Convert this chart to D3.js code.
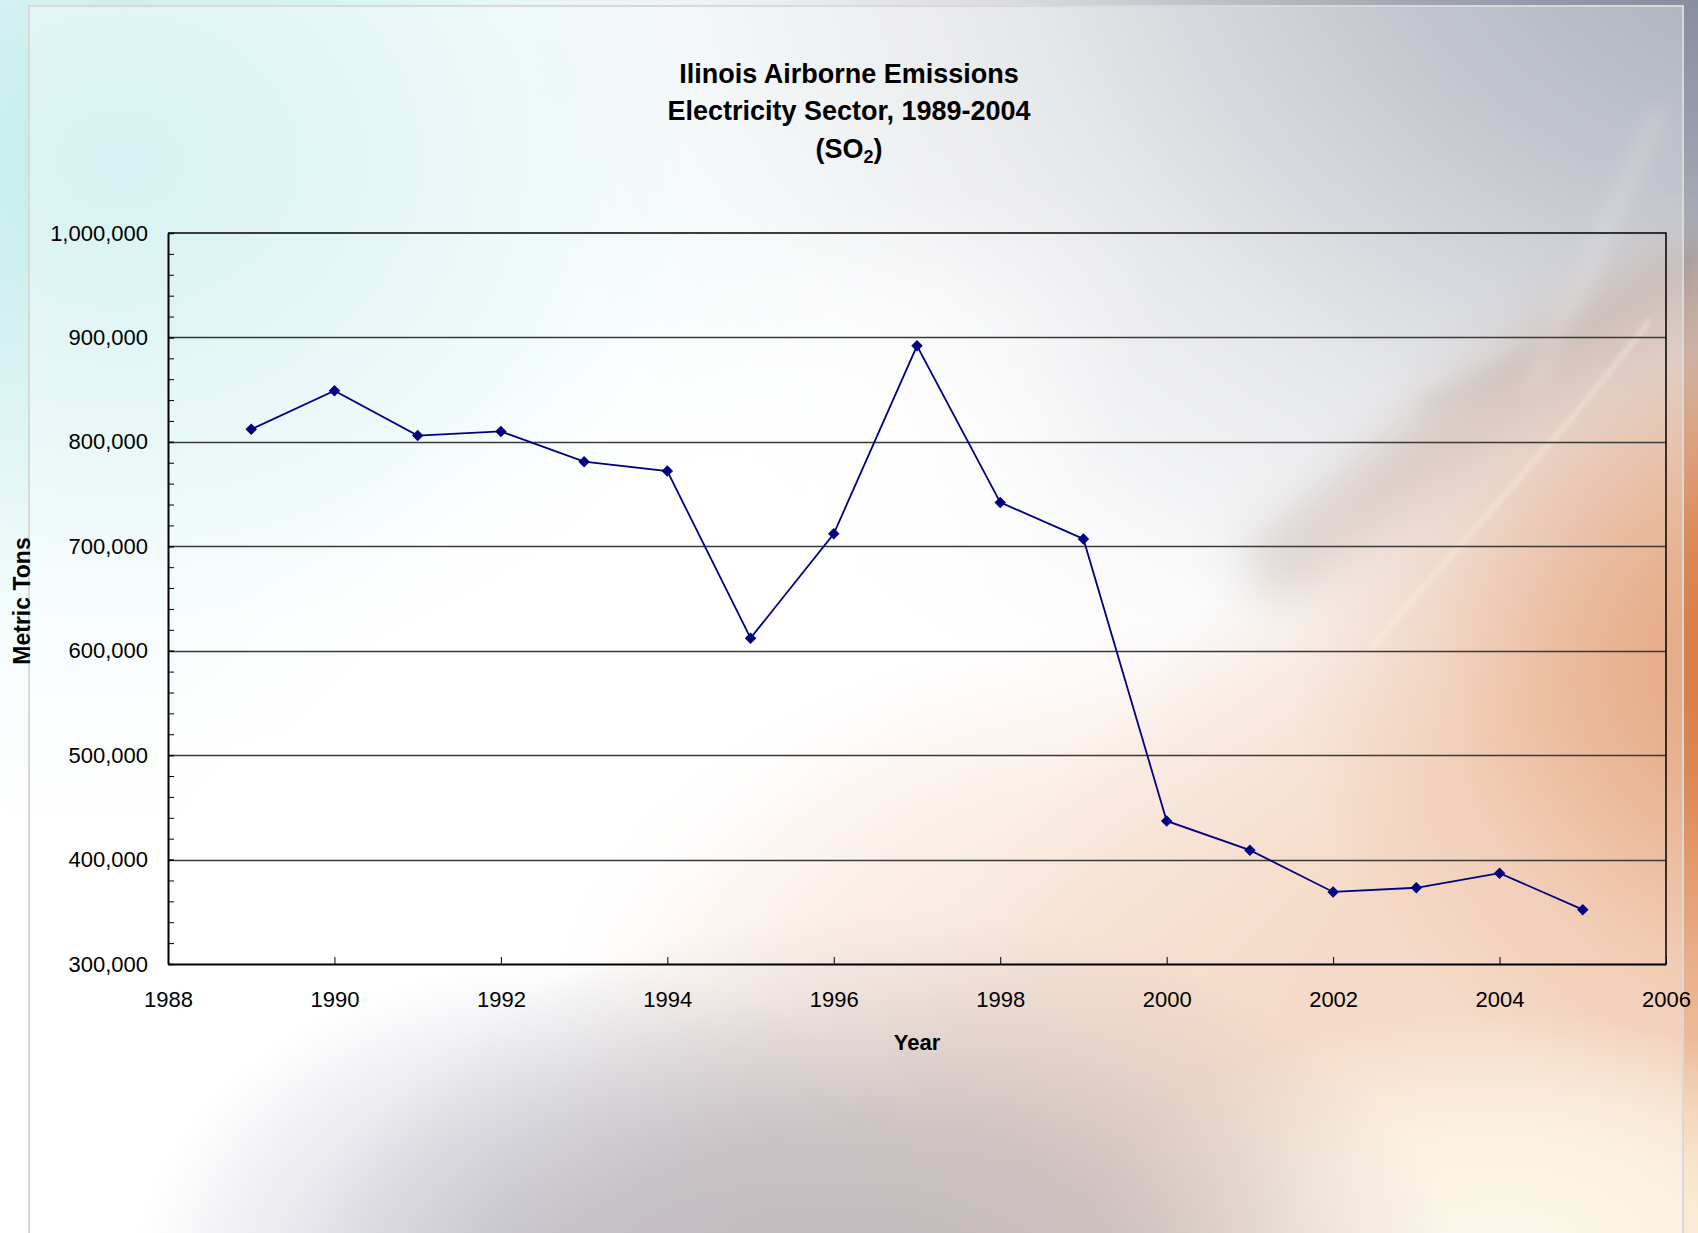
<!DOCTYPE html>
<html>
<head>
<meta charset="utf-8">
<script src="https://cdn.jsdelivr.net/npm/d3@7"></script>
<style>
  html, body { margin: 0; padding: 0; background: #fff; }
  svg { display: block; }
  text { font-family: "Liberation Sans", Arial, sans-serif; fill: #000; }
</style>
</head>
<body>
<div id="chart"></div>
<script>
// ---- data ----
const years = [1989, 1990, 1991, 1992, 1993, 1994, 1995, 1996, 1997, 1998, 1999, 2000, 2001, 2002, 2003, 2004, 2005];
const so2Tons = [812000, 849000, 806000, 810000, 781000, 772000, 612000, 712000, 892000, 742000, 707000, 437000, 409000, 369000, 373000, 387000, 352000];
const xTickValues = [1988, 1990, 1992, 1994, 1996, 1998, 2000, 2002, 2004, 2006];
const yTickValues = [300000, 400000, 500000, 600000, 700000, 800000, 900000, 1000000];
const titleLines = ["Ilinois Airborne Emissions", "Electricity Sector, 1989-2004"];
const xTitle = "Year";
const yTitle = "Metric Tons";

// ---- layout ----
const W = 1698, H = 1233;
const plot = { left: 168, right: 1666, top: 233, bottom: 964 };

const svg = d3.select("#chart").append("svg").attr("width", W).attr("height", H);
const defs = svg.append("defs");

// ---- background (slide-like soft gradients) ----
function blob(id, cx, cy, rx, ry, color, stops, rotate) {
  const g = defs.append("radialGradient").attr("id", id);
  stops.forEach(s => g.append("stop").attr("offset", s[0]).attr("stop-color", color).attr("stop-opacity", s[1]));
  const e = svg.append("ellipse").attr("cx", cx).attr("cy", cy).attr("rx", rx).attr("ry", ry)
    .attr("fill", `url(#${id})`);
  if (rotate) e.attr("transform", `rotate(${rotate},${cx},${cy})`);
}
function blurFilter(id, sd) {
  defs.append("filter").attr("id", id).attr("x", "-50%").attr("y", "-50%").attr("width", "200%").attr("height", "200%")
    .append("feGaussianBlur").attr("stdDeviation", sd);
}
blurFilter("blurL", 24);
blurFilter("blurM", 10);
blurFilter("blurT", 2.5);

svg.append("rect").attr("width", W).attr("height", H).attr("fill", "#ffffff");
blob("gCyan", 120, 160, 820, 680, "#c0ebeb", [[0, 1], [0.35, 0.6], [0.7, 0.15], [1, 0]]);
blob("gSlate", 1820, -120, 1350, 1000, "#727a8c", [[0, 1], [0.3, 0.7], [0.6, 0.28], [0.85, 0.06], [1, 0]]);
// brownish ridge along the diagonal
svg.append("path").attr("d", "M1260,580 C1380,480 1510,400 1698,260")
  .attr("fill", "none").attr("stroke", "#a89084").attr("stroke-opacity", 0.5).attr("stroke-width", 70).attr("filter", "url(#blurL)");
blob("gPeach", 1700, 960, 1080, 600, "#efbd9b", [[0, 1], [0.5, 0.85], [0.8, 0.35], [1, 0]], -40);
blob("gPeach2", 1200, 1020, 650, 400, "#f0c8ae", [[0, 0.85], [0.6, 0.45], [1, 0]]);
blob("gOrange", 1770, 660, 480, 460, "#d6743a", [[0, 1], [0.3, 0.75], [0.7, 0.2], [1, 0]]);
blob("gWhite", 500, 720, 800, 270, "#ffffff", [[0, 1], [0.5, 0.85], [0.8, 0.35], [1, 0]], -38);
blob("gCream", 1500, 1250, 420, 240, "#fbf6e0", [[0, 1], [0.5, 0.75], [1, 0]]);
blob("gBlue", 560, 1290, 430, 330, "#a6a9bd", [[0, 0.95], [0.5, 0.55], [1, 0]]);
blob("gMauve", 880, 1300, 580, 390, "#9c8f93", [[0, 1], [0.45, 0.72], [0.8, 0.2], [1, 0]]);

// swoosh streaks on the right
svg.append("path").attr("d", "M1370,650 C1460,540 1560,440 1650,320")
  .attr("fill", "none").attr("stroke", "#fff1d6").attr("stroke-opacity", 0.5).attr("stroke-width", 4).attr("filter", "url(#blurT)");
svg.append("path").attr("d", "M1420,410 C1500,380 1590,330 1698,250")
  .attr("fill", "none").attr("stroke", "#9a8a84").attr("stroke-opacity", 0.28).attr("stroke-width", 20).attr("filter", "url(#blurM)");
svg.append("path").attr("d", "M1530,390 C1575,300 1610,220 1660,110")
  .attr("fill", "none").attr("stroke", "#f4eee8").attr("stroke-opacity", 0.45).attr("stroke-width", 8).attr("filter", "url(#blurM)");

// chart area frame (semi-transparent white)
svg.append("rect").attr("x", 29).attr("y", 6).attr("width", 1654).attr("height", 1260)
  .attr("fill", "#ffffff").attr("fill-opacity", 0.35)
  .attr("stroke", "#d9d9d9").attr("stroke-width", 2);

// ---- scales ----
const x = d3.scaleLinear().domain([1988, 2006]).range([plot.left, plot.right]);
const y = d3.scaleLinear().domain([300000, 1000000]).range([plot.bottom, plot.top]);

// gridlines
svg.append("g").selectAll("line")
  .data(yTickValues.filter(v => v > 300000 && v < 1000000))
  .join("line")
  .attr("x1", plot.left).attr("x2", plot.right)
  .attr("y1", d => Math.round(y(d)) + 0.5).attr("y2", d => Math.round(y(d)) + 0.5)
  .attr("stroke", "#3a3a3a").attr("stroke-width", 1.3);

// plot border top/right
svg.append("path")
  .attr("d", `M${plot.left},${plot.top}H${plot.right}V${plot.bottom}`)
  .attr("fill", "none").attr("stroke", "#000").attr("stroke-width", 1.5);

// minor y ticks
const minorVals = d3.range(320000, 1000000, 20000).filter(v => v % 100000 !== 0);
svg.append("g").attr("transform", `translate(${plot.left},0)`)
  .call(d3.axisLeft(y).tickValues(minorVals).tickSizeInner(-6).tickSizeOuter(0).tickFormat(""))
  .call(g => g.select(".domain").remove())
  .call(g => g.selectAll("line").attr("stroke", "#000").attr("stroke-width", 1));

// y axis
const yAxis = svg.append("g").attr("transform", `translate(${plot.left},0)`)
  .call(d3.axisLeft(y).tickValues(yTickValues).tickSizeInner(-6).tickSizeOuter(0).tickPadding(20).tickFormat(d3.format(",")));
yAxis.select(".domain").attr("stroke", "#000").attr("stroke-width", 2);
yAxis.selectAll("line").attr("stroke", "#000").attr("stroke-width", 1.5);
yAxis.selectAll("text").attr("font-size", 22).attr("fill", "#000")
  .style("font-family", '"Liberation Sans", Arial, sans-serif');

// x axis
const xAxis = svg.append("g").attr("transform", `translate(0,${plot.bottom})`)
  .call(d3.axisBottom(x).tickValues(xTickValues).tickSizeInner(-7).tickSizeOuter(0).tickPadding(27).tickFormat(d3.format("d")));
xAxis.select(".domain").attr("stroke", "#000").attr("stroke-width", 2);
xAxis.selectAll("line").attr("stroke", "#000").attr("stroke-width", 1);
xAxis.selectAll("text").attr("font-size", 22).attr("fill", "#000")
  .style("font-family", '"Liberation Sans", Arial, sans-serif');

// ---- series ----
const pts = years.map((yr, i) => [yr, so2Tons[i]]);
svg.append("path").datum(pts)
  .attr("d", d3.line().x(d => x(d[0])).y(d => y(d[1])))
  .attr("fill", "none").attr("stroke", "#000080").attr("stroke-width", 1.8);
svg.append("g").selectAll("path").data(pts).join("path")
  .attr("d", d3.symbol().type(d3.symbolSquare).size(66))
  .attr("transform", d => `translate(${x(d[0])},${y(d[1])}) rotate(45)`)
  .attr("fill", "#000080");

// ---- titles ----
const title = svg.append("text").attr("text-anchor", "middle").attr("font-weight", "bold").attr("font-size", 27);
title.append("tspan").attr("x", 849).attr("y", 83).text(titleLines[0]);
title.append("tspan").attr("x", 849).attr("y", 120).text(titleLines[1]);
const t3 = svg.append("text").attr("text-anchor", "middle").attr("font-weight", "bold").attr("font-size", 27)
  .attr("x", 849).attr("y", 158);
t3.append("tspan").text("(SO");
t3.append("tspan").attr("font-size", 18).attr("dy", 5).text("2");
t3.append("tspan").attr("dy", -5).text(")");

svg.append("text").attr("x", 917).attr("y", 1050).attr("text-anchor", "middle")
  .attr("font-weight", "bold").attr("font-size", 22).text(xTitle);
svg.append("text").attr("transform", "translate(30,601) rotate(-90)").attr("text-anchor", "middle")
  .attr("font-weight", "bold").attr("font-size", 23).text(yTitle);
</script>
</body>
</html>
